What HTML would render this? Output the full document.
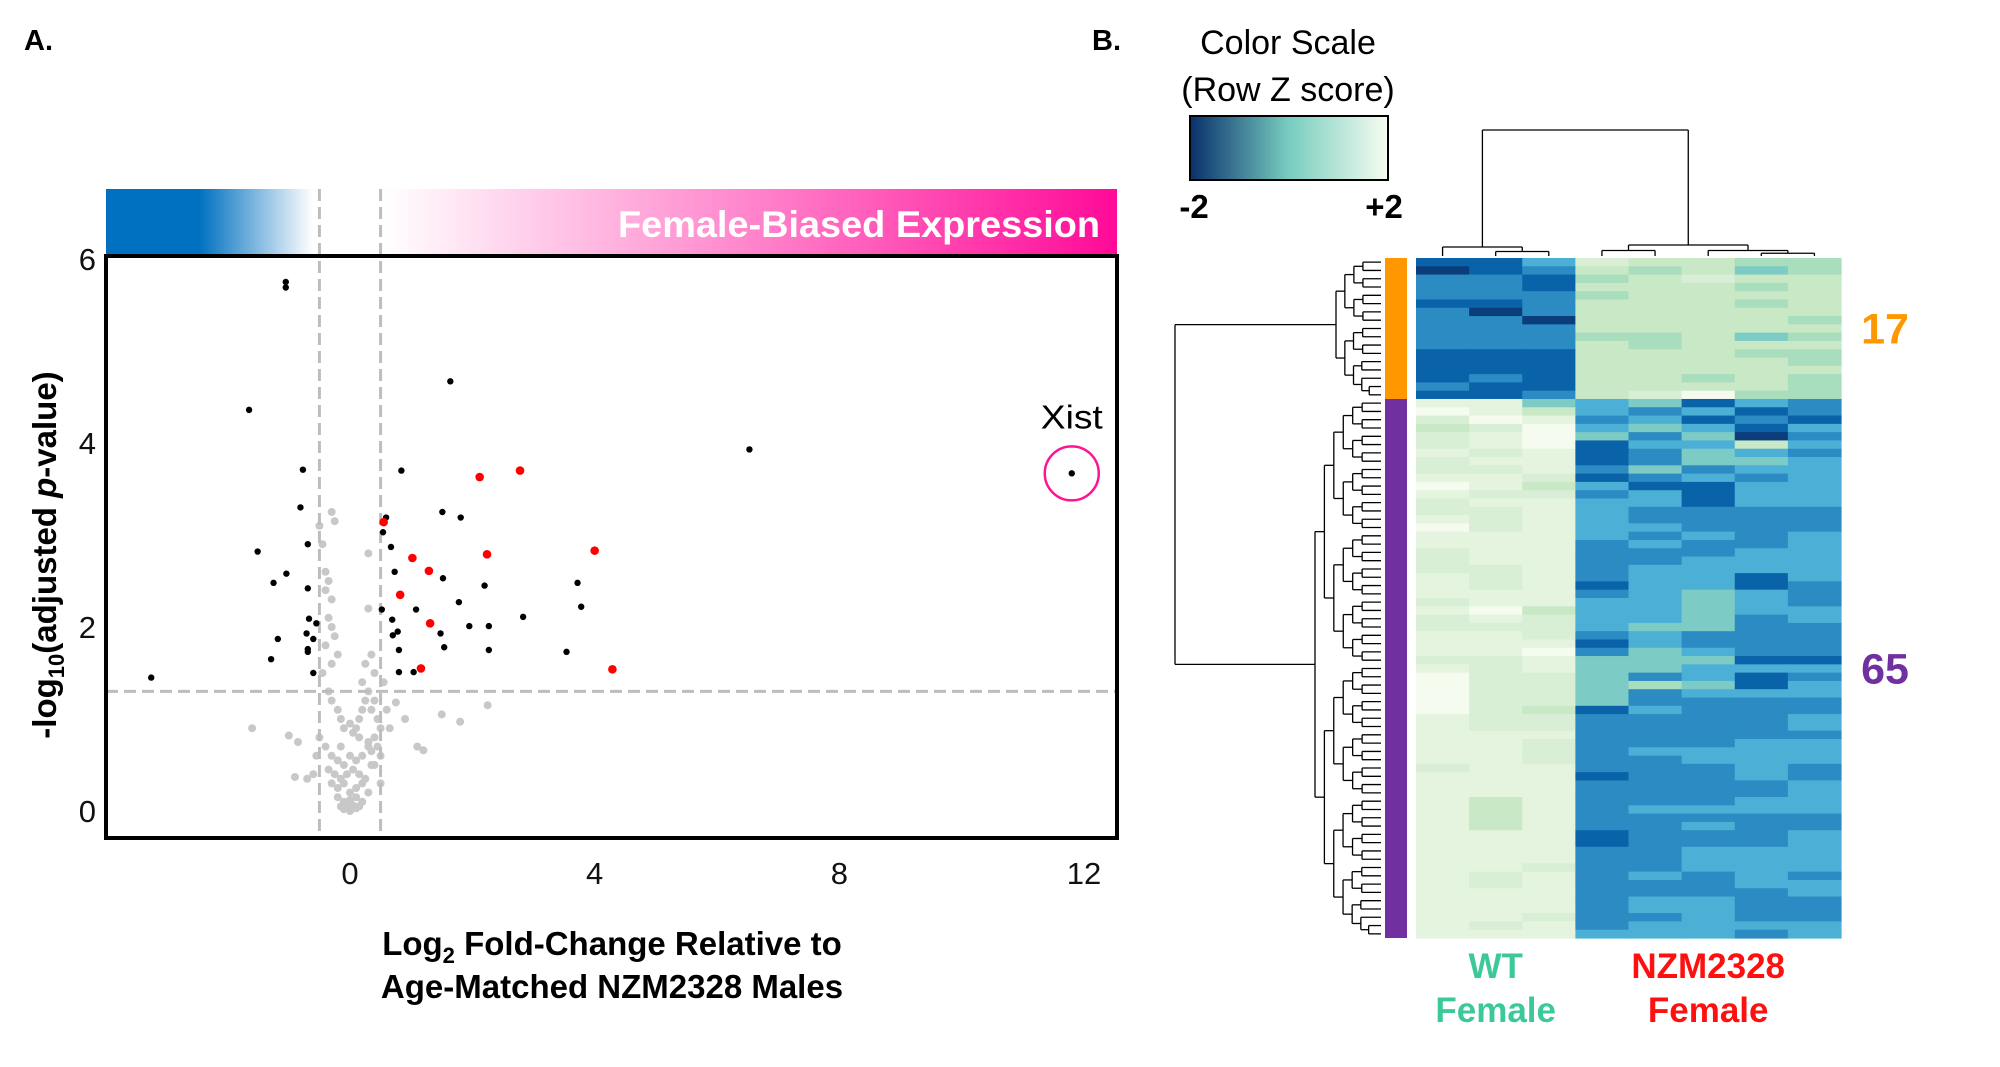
<!DOCTYPE html>
<html><head><meta charset="utf-8"><style>
html,body{margin:0;padding:0;background:#fff;}
svg{display:block;font-family:"Liberation Sans",sans-serif;}
.tick{font-family:"Liberation Sans Narrow","Liberation Sans",sans-serif;font-size:31px;fill:#111;}
</style></head><body>
<svg id="fig" width="2000" height="1067" viewBox="0 0 2000 1067" xmlns="http://www.w3.org/2000/svg">
<defs>
<linearGradient id="blueG" x1="0" x2="1" y1="0" y2="0"><stop offset="0" stop-color="#0070c0"/><stop offset="0.45" stop-color="#0070c0"/><stop offset="1" stop-color="#ffffff"/></linearGradient>
<linearGradient id="pinkG" x1="0" x2="1" y1="0" y2="0"><stop offset="0" stop-color="#ffffff"/><stop offset="1" stop-color="#ff0a98"/></linearGradient>
<linearGradient id="zG" x1="0" x2="1" y1="0" y2="0"><stop offset="0" stop-color="#08306b"/><stop offset="0.5" stop-color="#78cdc0"/><stop offset="1" stop-color="#f7fcf0"/></linearGradient>
</defs>
<text x="24" y="50" font-size="29" font-weight="bold">A.</text>
<text x="1092" y="50" font-size="29" font-weight="bold">B.</text>
<g id="volcano"></g>
<g id="heat"></g>
</svg>
<script>
const NS="http://www.w3.org/2000/svg";
function mk(parent,tag,attrs,text){const e=document.createElementNS(NS,tag);for(const k in attrs)e.setAttribute(k,attrs[k]);if(text!==undefined)e.textContent=text;parent.appendChild(e);return e;}

// ---------- Volcano data ----------
const xTicks=[0,4,8,12];
const yTicks=[0,2,4,6];
const blackX=[-1.05,-1.05,-1.65,1.64,6.53,11.8,-0.77,0.84,-0.81,1.51,1.81,0.59,0.54,-1.51,-0.69,0.67,-1.04,0.73,1.52,-1.25,3.72,-0.69,2.20,1.78,3.78,1.08,0.52,2.83,-0.67,0.69,1.95,2.27,-0.55,1.48,-0.71,0.78,0.70,-1.18,-0.60,1.54,-0.69,0.80,2.27,3.54,-0.69,-1.29,-3.25,-0.60,0.80,1.04];
const blackY=[5.75,5.69,4.36,4.67,3.93,3.67,3.71,3.70,3.30,3.25,3.19,3.19,3.03,2.82,2.90,2.87,2.58,2.60,2.53,2.48,2.48,2.42,2.45,2.27,2.22,2.19,2.19,2.11,2.09,2.08,2.01,2.01,2.04,1.93,1.93,1.95,1.91,1.87,1.87,1.78,1.76,1.75,1.75,1.73,1.73,1.65,1.45,1.50,1.51,1.51];
const redX=[2.12,2.78,0.55,4.00,2.24,1.02,1.29,0.82,1.31,1.16,4.29];
const redY=[3.63,3.70,3.14,2.83,2.79,2.75,2.61,2.35,2.04,1.55,1.54];
const grayX=[-1.6,-0.9,-0.7,-1.0,-0.85,0.75,1.1,1.2,1.5,1.8,2.25,0.9,0.5,0.3,0.3,0.25,0.2,-0.3,-0.25,-0.5,-0.45,-0.4,-0.35,-0.3,-0.3,-0.25,-0.2,-0.4,-0.45,-0.35,-0.3,-0.2,-0.15,-0.1,0.0,0.05,0.1,0.15,0.2,0.25,0.3,0.35,0.4,0.45,-0.5,-0.4,-0.3,-0.2,-0.1,0.0,0.1,0.2,0.3,0.4,-0.35,-0.25,-0.15,-0.05,0.05,0.15,0.25,0.35,-0.3,-0.2,-0.1,0.0,0.1,0.2,0.3,-0.2,-0.1,0.0,0.1,0.2,-0.15,-0.05,0.05,0.15,-0.1,0.0,0.1,0.0,0.55,0.6,0.65,0.35,0.4,0.5,-0.55,-0.6,0.45,0.5,-0.3,-0.35,-0.4,0.3,0.35,0.4,-0.15,0.15];
const grayY=[0.9,0.37,0.35,0.82,0.75,1.18,0.70,0.66,1.05,0.97,1.15,1.00,0.90,2.80,2.20,1.60,1.40,3.25,3.15,3.10,2.9,2.6,2.5,2.3,2.0,1.9,1.7,1.8,1.5,1.3,1.2,1.1,1.0,0.9,0.95,0.85,0.9,1.0,1.1,1.2,1.3,1.1,1.2,1.0,0.8,0.7,0.6,0.55,0.5,0.6,0.55,0.6,0.7,0.8,0.45,0.4,0.35,0.4,0.45,0.4,0.35,0.5,0.3,0.25,0.3,0.2,0.25,0.3,0.2,0.15,0.1,0.12,0.15,0.1,0.05,0.08,0.06,0.05,0.02,0.04,0.03,0.0,1.4,1.1,0.9,1.7,1.5,0.6,0.6,0.4,0.7,0.3,1.6,2.1,2.4,0.75,0.65,0.5,0.7,0.8];
const geneLabel="Xist", geneX=11.8, geneY=3.67;
const fcCut=0.5, pCut=1.3;

const V=document.getElementById('volcano');
const L=106,R=1117,T=256,B=838;
const xs=v=>350+v*(1084-350)/12;
const ys=v=>811-v*(811-259)/6;

mk(V,'rect',{x:L,y:189,width:313-L,height:T-189,fill:'url(#blueG)',});
mk(V,'rect',{x:383,y:189,width:R-383,height:T-189,fill:'url(#pinkG)',});
mk(V,'text',{x:618,y:237,textLength:482,lengthAdjust:'spacingAndGlyphs','font-size':37,'font-weight':'bold',fill:'#fff',},'Female-Biased Expression');

grayX.forEach((x,i)=>{const c=mk(V,'circle',{cx:xs(x),cy:ys(grayY[i]),r:4,fill:'#c8c8c8'});

});
[-fcCut,fcCut].forEach(v=>{const l=mk(V,'line',{x1:xs(v),x2:xs(v),y1:189,y2:B,stroke:'#bdbdbd','stroke-width':3,'stroke-dasharray':'12,6'});

});
const hl=mk(V,'line',{x1:L,x2:R,y1:ys(pCut),y2:ys(pCut),stroke:'#bdbdbd','stroke-width':3,'stroke-dasharray':'12,6'});


blackX.forEach((x,i)=>{const c=mk(V,'circle',{cx:xs(x),cy:ys(blackY[i]),r:3.2,fill:'#000'});

});
redX.forEach((x,i)=>{const c=mk(V,'circle',{cx:xs(x),cy:ys(redY[i]),r:4.3,fill:'#ff0000'});

});
const xc=mk(V,'circle',{cx:xs(geneX),cy:ys(geneY),r:27,fill:'none',stroke:'#ff1493','stroke-width':2.5});


const xt=mk(V,'text',{x:xs(geneX),y:ys(geneY)-45,'text-anchor':'middle','font-size':33,textLength:62,lengthAdjust:'spacingAndGlyphs'},geneLabel);


mk(V,'rect',{x:L,y:T,width:R-L,height:B-T,fill:'none',stroke:'#000','stroke-width':4,});
xTicks.forEach(v=>{const t=mk(V,'text',{x:xs(v),y:884,'text-anchor':'middle',class:'tick'},String(v));

});
yTicks.forEach(v=>{const t=mk(V,'text',{x:96,y:ys(v)+11,'text-anchor':'end',class:'tick'},String(v));

});
const yt=mk(V,'text',{transform:'translate(56,555) rotate(-90)','text-anchor':'middle','font-size':33,'font-weight':'bold',});
yt.innerHTML='-log<tspan font-size="22" dy="8">10</tspan><tspan dy="-8">(adjusted </tspan><tspan font-style="italic">p</tspan>-value)';
const xt1=mk(V,'text',{x:612,y:955,'text-anchor':'middle','font-size':33,'font-weight':'bold',});
xt1.innerHTML='Log<tspan font-size="22" dy="8">2</tspan><tspan dy="-8"> Fold-Change Relative to</tspan>';
mk(V,'text',{x:612,y:998,'text-anchor':'middle','font-size':33,'font-weight':'bold',},'Age-Matched NZM2328 Males');

// ---------- Heatmap data ----------
const palette=['#0a3d7a','#0a62a8','#2b8bc2','#4cb0d6','#7dcbc5','#a8ddbd','#c8e8c6','#d8efd5','#e4f4de','#f5fbef'];
const clusterSizes=[17,65];
const clusterLabels=['17','65'];
const clusterColors=['#ff9800','#7030a0'];
const rows=["11376655","01265645","22156766","22166656","22256666","11266656","20266666","22066665","22266666","22255645","22265666","11166655","11166665","11166666","12166565","21166665","11267955",
"88434132","98632312","79823121","67934313","78942402","78913363","87812432","78812443","77824233","88712323",
"98631133","87723133","78833133","77832222","87832222","97833222","88832323","88823223","78822233","78822333",
"77823333","87823313","87813312","88823432","78833432","89633433","78733423","77734422","88723222","88813222",
"88924322","77844411","87844333","97742312","97745413","97742333","97742222","97613222","87722223","87722223",
"88822222","88722233","88723333","88722333","78822232","88812232","88822223","88822223","86822233","86823333",
"86822222","86822322","88812223","88812223","88822333","88822333","88722333","87823232","87822233","88822223",
"88823322","88823322","88722322","87823333","88833323"];
const groupSizes=[3,5];
const groupLabels=[['WT','Female'],['NZM2328','Female']];
const groupColors=['#3cc99a','#ff1010'];

const H=document.getElementById('heat');
const HX=1416,HY=258,HW=425,HH=680;
const nR=rows.length,nC=rows[0].length;
const cw=HW/nC,rh=HH/nR;
rows.forEach((r,i)=>{for(let j=0;j<nC;j++){const c=mk(H,'rect',{x:HX+j*cw,y:HY+i*rh,width:cw+0.6,height:rh+0.6,fill:palette[+r[j]]});

}});
let acc=0;
clusterSizes.forEach((n,k)=>{const y0=HY+acc*rh;const b=mk(H,'rect',{x:1385,y:y0,width:22,height:n*rh,fill:clusterColors[k]});


const t=mk(H,'text',{x:1885,y:y0+n*rh/2+15,'text-anchor':'middle','font-size':43,'font-weight':'bold',fill:clusterColors[k]},clusterLabels[k]);


acc+=n;});
acc=0;
groupSizes.forEach((n,k)=>{const cx=HX+(acc+n/2)*cw;groupLabels[k].forEach((s,li)=>{const t=mk(H,'text',{x:cx,y:978+li*44,'text-anchor':'middle','font-size':35,'font-weight':'bold',fill:groupColors[k]},s);

});acc+=n;});

const D=mk(H,'g',{stroke:'#000','stroke-width':1.3,fill:'none',});
function ln(x1,y1,x2,y2){mk(D,'line',{x1,y1,x2,y2});}
function rowTree(a,b,xLeaf,xTop){
  if(b-a===1){return HY+(a+0.5)*rh;}
  const m=Math.floor((a+b)/2);
  const step=(xLeaf-xTop)/Math.max(1,Math.log2(b-a)+1);
  const x=xTop;
  const y1=rowTree(a,m,xLeaf,x+step),y2=rowTree(m,b,xLeaf,x+step);
  const xc1=(m-a===1)?xLeaf:x+step,xc2=(b-m===1)?xLeaf:x+step;
  ln(x,y1,xc1,y1);ln(x,y2,xc2,y2);ln(x,y1,x,y2);
  return (y1+y2)/2;
}
const yA=rowTree(0,clusterSizes[0],1381,1336);
const yB=rowTree(clusterSizes[0],nR,1381,1315);
ln(1175,yA,1336,yA);ln(1175,yB,1315,yB);ln(1175,yA,1175,yB);
function colTree(a,b,yLeaf,yTop){
  if(b-a===1)return HX+(a+0.5)*cw;
  const m=Math.floor((a+b)/2);
  const step=(yLeaf-yTop)/2;
  const x1=colTree(a,m,yLeaf,yTop+step),x2=colTree(m,b,yLeaf,yTop+step);
  const yc1=(m-a===1)?yLeaf:yTop+step,yc2=(b-m===1)?yLeaf:yTop+step;
  ln(x1,yTop,x1,yc1);ln(x2,yTop,x2,yc2);ln(x1,yTop,x2,yTop);
  return (x1+x2)/2;
}
const cA=colTree(0,groupSizes[0],256,247);
const cB=colTree(groupSizes[0],nC,256,245);
ln(cA,130,cA,247);ln(cB,130,cB,245);ln(cA,130,cB,130);

mk(H,'text',{x:1288,y:54,'text-anchor':'middle','font-size':34,},'Color Scale');
mk(H,'text',{x:1288,y:101,'text-anchor':'middle','font-size':34,},'(Row Z score)');
mk(H,'rect',{x:1190,y:116,width:198,height:64,fill:'url(#zG)',stroke:'#000','stroke-width':2,});
mk(H,'text',{x:1194,y:218,'text-anchor':'middle','font-size':33,'font-weight':'bold',},'-2');
mk(H,'text',{x:1384,y:218,'text-anchor':'middle','font-size':33,'font-weight':'bold',},'+2');
</script>
</body></html>
